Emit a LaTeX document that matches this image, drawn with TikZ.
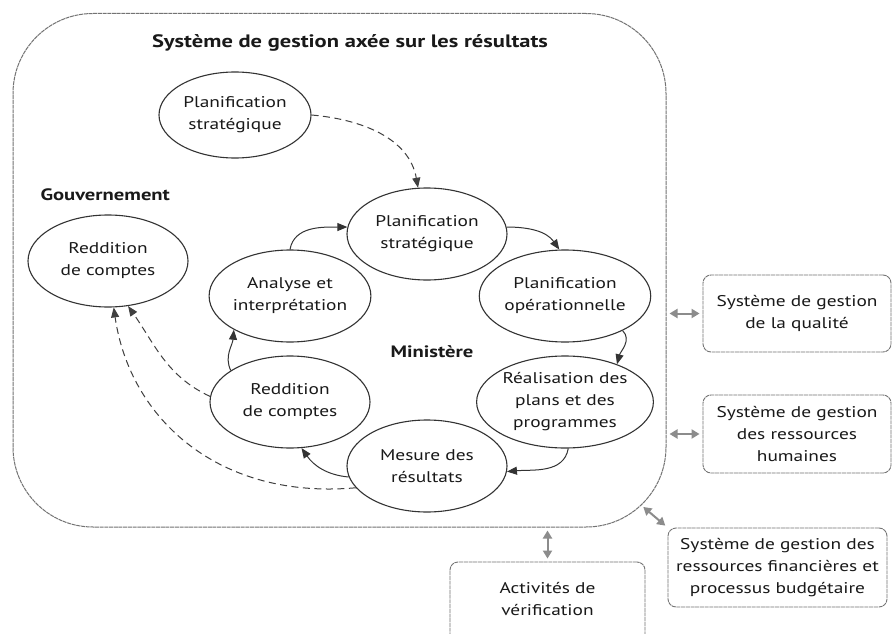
\documentclass[tikz,border=0pt]{standalone}
\usepackage{fontspec}
\setmainfont{PT Sans}[FakeStretch=1.25]
\usetikzlibrary{shapes.geometric,arrows.meta}
\begin{document}
\begin{tikzpicture}[x=1pt,y=1pt,
  oval/.style={ellipse, draw=black!80, line width=1.1pt, minimum width=160pt, minimum height=92pt, inner sep=0pt, align=center, font=\fontsize{15.5}{22}\selectfont, text=black!90},
  sidebox/.style={rectangle, rounded corners=8pt, draw=black!55, line width=0.9pt, dash pattern=on 4pt off 0.7pt, align=center, inner sep=0pt, font=\fontsize{15.5}{22}\selectfont, text=black!90},
  flow/.style={-{Triangle[length=10pt,width=8pt]}, line width=1pt, draw=black!80},
  dflow/.style={-{Triangle[length=10pt,width=8pt]}, line width=1pt, draw=black!75, dash pattern=on 7pt off 4.5pt},
  link/.style={{Triangle[length=8pt,width=9pt]}-{Triangle[length=8pt,width=9pt]}, line width=2pt, draw=black!45, shorten <=3pt, shorten >=3pt},
  heading/.style={font=\bfseries\fontsize{16.5}{20}\selectfont, text=black!90}
]
\useasboundingbox (0,0) rectangle (892,-634);
\clip (0,0) rectangle (892,-634);
\fill[white] (0,0) rectangle (892,-634);

% main frame
\node[rectangle, rounded corners=80pt, draw=black!55, line width=1pt, dash pattern=on 4pt off 0.7pt, minimum width=653pt, minimum height=513.5pt, inner sep=0pt] (frame) at (339.5,-270.25) {};
\node[heading, font=\bfseries\fontsize{18}{20}\selectfont] (title) at (350,-43) {Système de gestion axée sur les résultats};
\node[heading, anchor=west] (gouv) at (37,-195) {Gouvernement};
\node[heading] (min) at (432,-352) {Ministère};

% ellipses
\node[oval, minimum width=152pt, minimum height=86pt] (top) at (235,-115) {Planification\\stratégique};
\node[oval] (gr) at (108,-261) {Reddition\\de comptes};
\node[oval] (ps) at (427,-234) {Planification\\stratégique};
\node[oval] (po) at (565,-296) {Planification\\opérationnelle};
\node[oval] (re) at (565,-402) {Réalisation des\\plans et des\\programmes};
\node[oval] (me) at (427,-466) {Mesure des\\résultats};
\node[oval] (rd) at (290,-402) {Reddition\\de comptes};
\node[oval] (an) at (290,-296) {Analyse et\\interprétation};

% cycle arrows
\draw[flow] (an.north) to[out=80,in=180] (ps.175);
\draw[flow] (ps.5) to[out=0,in=125] (po.97);
\draw[flow] (po.-31) to[out=-45,in=75] (re.36);
\draw[flow] (re.-86) to[out=-100,in=5] (me.-4);
\draw[flow] (me.188) to[out=175,in=-55] (rd.-76);
\draw[flow] (rd.152) to[out=115,in=-95] (an.211);

% dashed arrows
\draw[dflow] (top.east) to[out=-5,in=100] (ps.101);
\draw[dflow] (rd.176) to[out=155,in=-55] (gr.-66);
\draw[dflow] (me.197) .. controls (220,-500) and (130,-420) .. (gr.-83);

% side boxes
\node[sidebox, minimum width=188pt, minimum height=77pt] (qual) at (797,-313.5) {Système de gestion\\de la qualité};
\node[sidebox, minimum width=188pt, minimum height=78pt] (rh) at (797,-434) {Système de gestion\\des ressources\\humaines};
\node[sidebox, minimum width=219pt, minimum height=79pt] (rf) at (777.5,-567.5) {Système de gestion des\\ressources financières et\\processus budgétaire};
\node[sidebox, minimum width=195pt, minimum height=100pt] (av) at (547.5,-612) {};
\node[font=\fontsize{15.5}{22}\selectfont, text=black!90, align=center] (avt) at (547.5,-599) {Activités de\\vérification};

% links
\coordinate (fcorner) at (641,-505);
\draw[link] (qual.west -| frame.east) -- (qual.west);
\draw[link] (rh.west -| frame.east) -- (rh.west);
\draw[link] (fcorner) -- (rf.north west);
\draw[link] (av.north |- frame.south) -- (av.north);
\end{tikzpicture}
\end{document}
